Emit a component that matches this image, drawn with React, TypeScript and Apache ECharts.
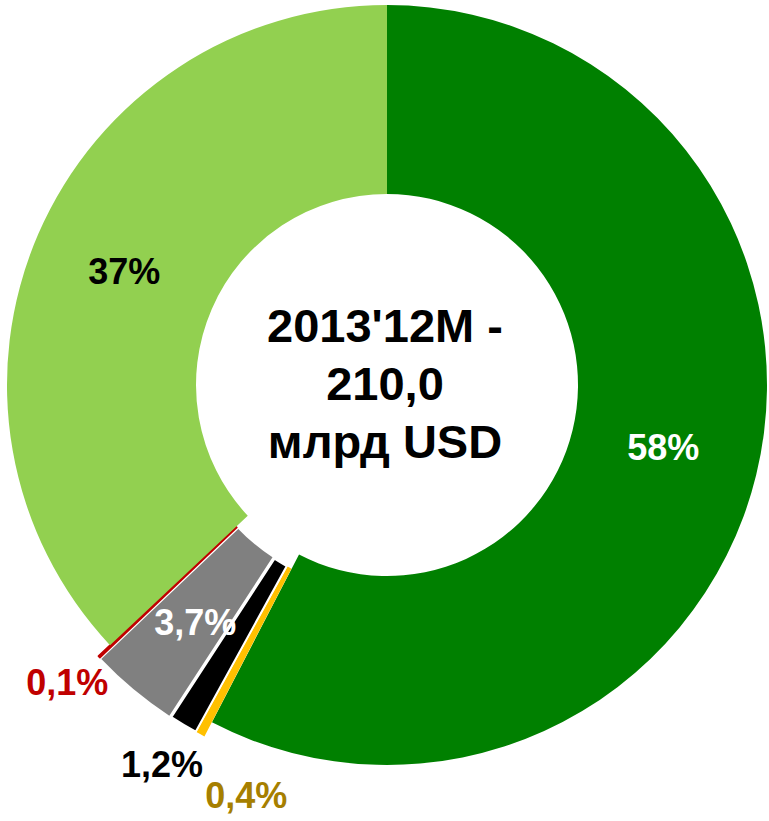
import React, { useEffect, useRef } from "react";
import * as echarts from "echarts";

// Slice values in mlrd USD (total 210,0), clockwise from 12 o'clock
const categories = ["Категория 1", "Категория 2", "Категория 3", "Категория 4", "Категория 5", "Категория 6"];
const values = [121.0, 0.8, 2.5, 7.8, 0.2, 77.7];
const decimals = [0, 1, 1, 1, 1, 0];
const exploded = [false, true, true, true, true, false];
const centerLines = ["2013'12M -", "210,0", "млрд USD"];

// styling (kept apart from the data)
const sliceColors = ["#008000", "#FFC000", "#000000", "#808080", "#C00000", "#92D050"];
const labelColors = ["#FFFFFF", "#A67F00", "#000000", "#FFFFFF", "#C00000", "#000000"];
const labelPositions = ["inside", "outside", "outside", "inside", "outside", "inside"];
const labelNudges: [number, number][] = [
  [-4, -6],
  [65, 35],
  [-1, 14],
  [3, 3],
  [-5, 5],
  [2, 1],
];

const FONT = "'Liberation Sans', Arial, Helvetica, sans-serif";

export default function App() {
  const ref = useRef<HTMLDivElement>(null);

  useEffect(() => {
    if (!ref.current) return;
    const chart = echarts.init(ref.current, undefined, { renderer: "svg" });
    const total = values.reduce((a, b) => a + b, 0);

    const data = values.map((v, i) => ({
      name: categories[i],
      value: v,
      selected: exploded[i],
      itemStyle: {
        color: sliceColors[i],
        borderColor: i === 2 ? "#FFFFFF" : i === 4 ? "#C00000" : "transparent",
        borderWidth: i === 2 ? 2 : i === 4 ? 1.5 : 0,
      },
      label: {
        position: labelPositions[i] as any,
        color: labelColors[i],
      },
      labelLine: { show: false },
    }));

    chart.setOption({
      animation: false,
      backgroundColor: "#FFFFFF",
      series: [
        {
          type: "pie",
          center: [387, 385],
          radius: [191, 380],
          startAngle: 90,
          clockwise: true,
          selectedMode: "multiple",
          selectedOffset: 16,
          avoidLabelOverlap: false,
          silent: true,
          label: {
            show: true,
            fontFamily: FONT,
            fontWeight: "bold",
            fontSize: 36,
            formatter: (p: any) => {
              const pct = (p.value / total) * 100;
              return pct.toFixed(decimals[p.dataIndex]).replace(".", ",") + "%";
            },
          },
          labelLine: { show: false, length: 30, length2: 0 },
          labelLayout: (p: any) => {
            const n = labelNudges[p.dataIndex];
            const out = labelPositions[p.dataIndex] === "outside";
            return out
              ? { dx: n[0], dy: n[1], align: "center", verticalAlign: "middle" }
              : { dx: n[0], dy: n[1] };
          },
          emphasis: { disabled: true },
          data,
        },
      ],
      graphic: [
        {
          type: "text",
          x: 385,
          y: 383,
          silent: true,
          style: {
            text: centerLines.join("\n"),
            fill: "#000000",
            font: `bold 47px ${FONT}`,
            lineHeight: 58,
            align: "center",
            verticalAlign: "middle",
          },
        },
      ],
    });

    return () => chart.dispose();
  }, []);

  return (
    <div
      ref={ref}
      style={{ position: "absolute", left: 0, top: 0, width: 769, height: 821, background: "#FFFFFF" }}
    />
  );
}
